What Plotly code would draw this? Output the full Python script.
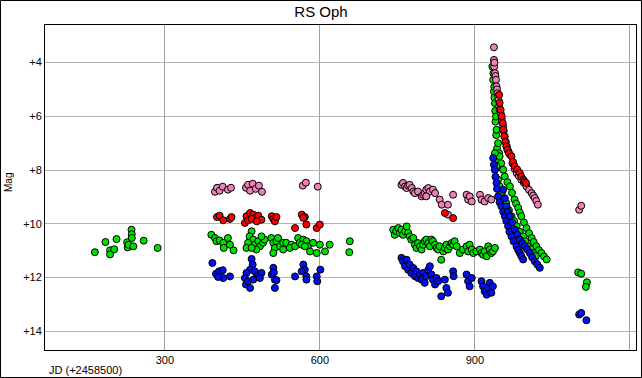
import plotly.graph_objects as go

# ---------------- data (JD - 2458500, magnitude) ----------------
green_jd = [164.5, 185, 194, 194, 202, 206.5, 227, 228, 235.5, 236, 236, 229.5, 239, 259, 286,
            390, 397, 400, 406, 413, 414, 422, 426, 433,
            468, 464, 471, 461, 458, 474, 481, 484, 490, 493, 487, 477, 468,
            506, 510, 513, 510, 516, 523, 529, 519, 529, 535, 545, 542, 552, 558, 561, 568, 574, 577,
            581, 587, 594, 600, 610, 619, 658, 657, 565, 571,
            742, 745, 748, 752, 755, 758, 761, 765, 768, 771, 774, 777, 781, 784, 787, 790, 794, 797,
            800, 803, 806, 810, 813, 816, 819, 823, 826, 829, 832, 835, 839, 842, 845, 848, 852, 855,
            858, 861, 865, 871, 877, 884, 887, 890, 894, 897, 903, 910, 913, 916, 919, 923, 926, 929,
            932, 935, 939,
            934, 935.5, 936, 937, 937.5, 938, 939, 939.5, 940, 941, 941.5, 942, 943, 944, 945, 946, 947,
            948, 951, 955, 958, 963, 968, 972, 977, 980, 984, 987, 990, 995, 1000, 1005, 1010, 1014,
            1019, 1024, 1029, 1034, 1039,
            939, 942, 945, 948, 952, 956, 961, 966, 971, 976, 981, 987, 994, 998, 1003, 1008, 1013, 1018,
            1100, 1106, 1117, 1115]
green_mag = [11.06, 10.68, 10.99, 11.14, 10.95, 10.57, 10.69, 10.88, 10.22, 10.39, 10.53, 10.78, 10.84, 10.63, 10.90,
             10.41, 10.53, 10.65, 10.62, 10.71, 10.90, 10.53, 10.78, 10.99,
             10.28, 10.47, 10.59, 10.71, 10.90, 10.78, 10.65, 10.84, 10.71, 10.59, 10.47, 10.96, 10.90,
             10.53, 10.71, 10.90, 11.09, 10.65, 10.84, 10.96, 10.53, 10.71, 10.71, 10.78, 10.90, 10.84, 10.53, 10.71, 10.59, 10.65, 10.84,
             11.03, 10.71, 11.09, 10.78, 11.03, 10.78, 10.65, 11.06, 10.78, 10.84,
             10.22, 10.41, 10.28, 10.16, 10.34, 10.22, 10.41, 10.28, 10.10, 10.34, 10.47, 10.59, 10.53, 10.78, 10.90, 10.72, 10.84, 10.96,
             10.78, 10.65, 10.59, 10.72, 10.84, 10.59, 10.65, 10.78, 10.90, 10.96, 10.84, 11.34, 11.03, 10.90, 10.78, 10.96, 10.84, 10.72,
             10.78, 10.65, 10.84, 11.09, 10.96, 10.84, 11.03, 10.78, 10.96, 11.09, 11.03, 10.96, 11.09, 11.15, 11.03, 11.21, 10.84, 10.96,
             11.09, 11.03, 10.90,
             4.15, 4.64, 4.40, 5.08, 4.90, 5.30, 5.51, 5.80, 6.20, 6.01, 6.70, 6.50, 7.20, 7.60, 7.00, 7.90, 7.37,
             7.49, 7.75, 7.99, 8.24, 8.45, 8.61, 8.85, 9.10, 9.25, 9.41, 9.58, 9.72, 9.95, 10.16, 10.35, 10.53, 10.68,
             10.84, 10.98, 11.09, 11.22, 11.33,
             7.37, 7.86, 8.36, 8.60, 8.86, 9.05, 9.23, 9.50, 9.72, 9.90, 10.09, 10.30, 10.47, 10.65, 10.84, 10.95, 11.09, 11.20,
             11.81, 11.86, 12.18, 12.35]

blue_jd = [392, 399, 405, 412, 413, 403, 426, 468, 470, 465, 458, 455, 457, 461, 474, 478, 471, 481, 487, 484, 465,
           510, 507, 511, 513, 516, 513, 552, 568, 571, 565, 574, 574, 594, 595, 601,
           758, 761, 765, 768, 771, 774, 777, 781, 784, 787, 790, 794, 797, 800, 803, 806, 810, 813, 816, 819,
           823, 826, 829, 835, 842, 845, 848, 858, 859, 884, 887, 890, 894, 913, 916, 919, 923, 926, 929, 932, 935,
           935.5, 937, 938.7, 940, 941.9, 943, 945.1, 948, 951.6, 955, 958, 961, 964.5, 967, 970.9, 975, 980.6,
           984, 987.1, 990, 993.5,
           954.8, 958, 961.3, 964, 967.7, 972, 977.4, 982, 987.1, 992, 996.7, 1001, 1006.4, 1011, 1016.1,
           1021, 1025.8,
           1102, 1106, 1116]
blue_mag = [11.46, 11.86, 11.77, 11.73, 12.02, 11.98, 11.96, 11.31, 11.52, 11.71, 11.83, 12.02, 12.26, 12.14, 11.77, 11.96, 12.08, 11.90, 11.83, 12.02, 12.39,
            11.64, 11.89, 11.81, 12.08, 12.10, 12.39, 11.96, 11.52, 11.71, 11.77, 11.96, 12.08, 11.96, 12.14, 11.71,
            11.27, 11.40, 11.58, 11.34, 11.71, 11.52, 11.83, 11.65, 11.95, 11.77, 12.02, 11.89, 12.08, 11.83, 12.20, 11.95, 11.71, 11.58, 11.89, 12.08,
            12.26, 12.02, 12.14, 12.70, 12.08, 12.39, 12.57, 11.77, 11.95, 11.89, 12.14, 12.33, 12.02, 12.14, 12.33, 12.51, 12.64, 12.39, 12.20, 12.57, 12.33,
            7.55, 7.80, 7.99, 8.25, 8.48, 8.70, 8.98, 9.20, 9.35, 9.55, 9.72, 9.90, 10.09, 10.30, 10.47, 10.65, 10.84,
            10.98, 11.09, 11.20, 11.33,
            8.73, 9.05, 9.35, 9.55, 9.72, 9.95, 10.22, 10.40, 10.59, 10.72, 10.84, 10.95, 11.09, 11.25, 11.40,
            11.52, 11.64,
            13.38, 13.32, 13.59]

red_jd = [401, 406, 413, 426, 429, 458, 465, 471, 474, 481, 487, 455, 461, 468, 478,
          507, 510, 513, 516, 552, 565, 571, 574, 594, 600, 568,
          842, 858,
          947, 948, 950, 952, 954, 955, 957, 959, 961, 963, 966, 971, 974, 977, 982, 987, 990, 994, 996, 999]
red_mag = [9.75, 9.70, 9.87, 9.82, 9.75, 9.72, 9.60, 9.66, 9.78, 9.70, 9.85, 9.97, 9.87, 9.82, 9.91,
           9.72, 9.82, 9.91, 9.75, 10.16, 9.66, 9.75, 10.03, 10.16, 10.03, 9.78,
           9.60, 9.79,
           5.20, 5.50, 5.76, 6.00, 6.25, 6.50, 6.75, 6.95, 7.12, 7.25, 7.37, 7.49, 7.70, 7.86, 7.98, 8.11, 8.25, 8.36, 8.42, 8.48]

pink_jd = [397, 401, 406, 412, 422, 428, 457, 461, 465, 470, 476, 482, 488, 567, 573, 596,
           758, 761, 765, 768, 771, 774, 778, 781, 784, 790, 797, 800, 803, 806, 810, 813, 819, 823, 806,
           832, 836, 848, 858, 884, 887, 890, 894, 910, 913, 919, 926, 932, 848,
           937, 937, 937.5, 938, 939, 940, 941, 942, 943, 944, 945, 946, 947, 948, 950, 952, 955, 956, 958,
           960, 962, 965, 968, 973, 977, 981, 985, 990,
           995, 1000, 1005, 1010, 1013, 1016, 1019, 1022, 1102, 1106]
pink_mag = [8.81, 8.66, 8.77, 8.62, 8.73, 8.66, 8.66, 8.55, 8.77, 8.51, 8.70, 8.58, 8.81, 8.58, 8.47, 8.62,
            8.55, 8.48, 8.61, 8.67, 8.58, 8.55, 8.67, 8.80, 8.86, 8.80, 8.98, 8.92, 8.86, 8.73, 8.67, 8.80, 8.73, 8.86, 8.98,
            9.10, 9.29, 9.29, 8.92, 8.92, 9.10, 8.98, 9.17, 8.92, 9.10, 9.17, 9.04, 9.10, 9.66,
            3.43, 3.90, 4.15, 4.00, 4.39, 4.50, 4.64, 4.89, 5.00, 5.14, 5.25, 5.39, 5.63, 5.75, 5.88, 6.10, 6.38, 6.55, 6.75,
            6.95, 7.12, 7.30, 7.43, 7.75, 7.95, 8.11, 8.22, 8.36,
            8.48, 8.61, 8.74, 8.86, 8.95, 9.04, 9.15, 9.29, 9.48, 9.33]

x_ticks = [300, 600, 900, 1200]
y_ticks = [4, 6, 8, 10, 12, 14]
y_tick_text = ["+4", "+6", "+8", "+10", "+12", "+14"]

# ---------------- figure ----------------
FONT = "Liberation Sans, Arial, sans-serif"
fig = go.Figure()


def add_band(xs, ys, color):
    fig.add_trace(go.Scatter(
        x=xs, y=ys, mode="markers",
        marker=dict(size=7, color=color, line=dict(color="black", width=1)),
        error_y=dict(type="constant", value=0.1, color="#c0c0c0", thickness=1, width=2),
        showlegend=False, hoverinfo="skip"))


add_band(green_jd, green_mag, "#00e000")
add_band(blue_jd, blue_mag, "#0010f0")
add_band(pink_jd, pink_mag, "#f080b8")
add_band(red_jd, red_mag, "#ff0000")

W, H = 642, 378
ML, MR, MT, MB = 45, 6, 25, 28
pw, ph = W - ML - MR, H - MT - MB

fig.update_layout(
    width=W, height=H,
    margin=dict(l=ML, r=MR, t=MT, b=MB, pad=0, autoexpand=False),
    paper_bgcolor="white", plot_bgcolor="white",
    font=dict(family=FONT, size=11, color="black"),
    title=dict(text="RS Oph", x=0.5, xanchor="center", y=1 - 12 / H, yanchor="middle",
               font=dict(family=FONT, size=15, color="black")),
    xaxis=dict(range=[68, 1212], tickvals=x_ticks, ticktext=[str(v) for v in x_ticks],
               showgrid=True, gridcolor="#a0a0a0", gridwidth=1, zeroline=False,
               showline=True, linecolor="black", linewidth=1, mirror=True,
               ticks="", tickfont=dict(size=11, color="black"), automargin=False),
    yaxis=dict(range=[14.7, 2.6], tickvals=y_ticks, ticktext=y_tick_text,
               showgrid=True, gridcolor="#b4b4b4", gridwidth=1, zeroline=False,
               showline=True, linecolor="black", linewidth=1, mirror=True,
               ticks="", tickfont=dict(size=11, color="black"), automargin=False),
    shapes=[dict(type="rect", xref="paper", yref="paper",
                 x0=(0.5 - ML) / pw, x1=(W - 0.5 - ML) / pw,
                 y0=(ph + MT - (H - 0.5)) / ph, y1=(ph + MT - 0.5) / ph,
                 line=dict(color="black", width=1), fillcolor="rgba(0,0,0,0)", layer="above")],
    annotations=[
        dict(text="Mag", xref="paper", yref="paper", x=(8 - ML) / pw, y=(MT + ph - 183) / ph,
             textangle=-90, showarrow=False, font=dict(size=10), xanchor="center", yanchor="middle"),
        dict(text="JD (+2458500)", xref="paper", yref="paper", x=(47 - ML) / pw, y=(MT + ph - 370) / ph,
             showarrow=False, font=dict(size=11), xanchor="left", yanchor="middle"),
    ],
)

fig.write_html("out.html", config={"displayModeBar": False},
               post_script="document.body.style.margin='0';document.body.style.overflow='hidden';")
